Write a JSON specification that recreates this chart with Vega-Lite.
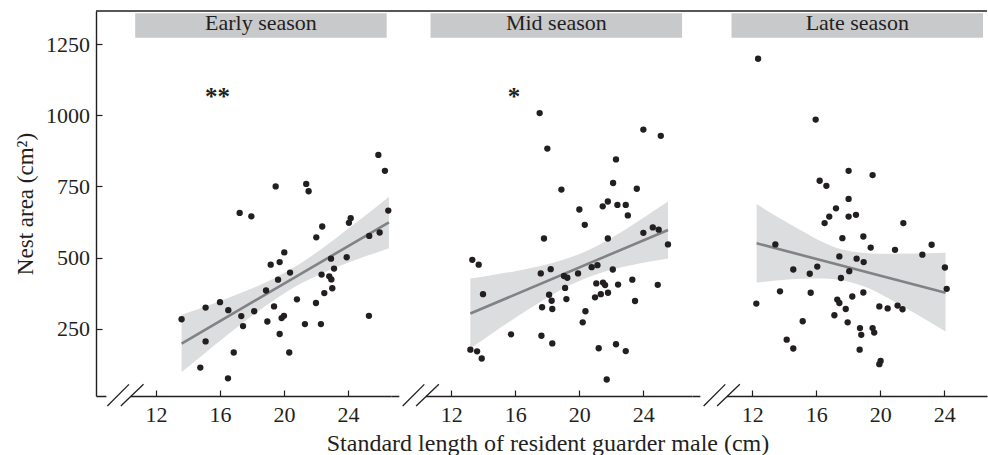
{
  "$schema": "https://vega.github.io/schema/vega-lite/v6.json",
  "background": "white",
  "padding": {"left": 14, "top": 10, "right": 0, "bottom": 0},
  "bounds": "flush",
  "spacing": 0,
  "config": {
    "view": {"stroke": null},
    "font": "Liberation Serif",
    "axis": {
      "grid": false,
      "domainColor": "#231f20", "domainWidth": 1.4,
      "tickColor": "#231f20", "tickWidth": 1.2, "tickSize": -6,
      "labelColor": "#231f20", "labelFont": "Liberation Serif", "labelFontSize": 22,
      "titleColor": "#231f20", "titleFont": "Liberation Serif", "titleFontSize": 24, "titleFontWeight": "normal"
    },
    "axisX": {"labelPadding": 14, "titlePadding": 6},
    "axisY": {"labelPadding": 12.5, "titlePadding": 8.5}
  },
  "datasets": {
    "pts": [
      {"s":"Early","x":13.6,"y":283},{"s":"Early","x":14.77,"y":113},{"s":"Early","x":15.1,"y":324},{"s":"Early","x":15.1,"y":205},{"s":"Early","x":16.0,"y":343},{"s":"Early","x":16.5,"y":75},{"s":"Early","x":16.52,"y":315},{"s":"Early","x":16.86,"y":166},{"s":"Early","x":17.23,"y":657},{"s":"Early","x":17.33,"y":294},{"s":"Early","x":17.44,"y":259},{"s":"Early","x":17.96,"y":645},{"s":"Early","x":18.14,"y":311},{"s":"Early","x":18.88,"y":384},{"s":"Early","x":18.96,"y":275},{"s":"Early","x":19.17,"y":475},{"s":"Early","x":19.38,"y":328},{"s":"Early","x":19.48,"y":750},{"s":"Early","x":19.63,"y":422},{"s":"Early","x":19.73,"y":484},{"s":"Early","x":19.73,"y":231},{"s":"Early","x":19.85,"y":287},{"s":"Early","x":20.0,"y":295},{"s":"Early","x":20.02,"y":518},{"s":"Early","x":20.33,"y":166},{"s":"Early","x":20.38,"y":447},{"s":"Early","x":20.81,"y":353},{"s":"Early","x":21.31,"y":266},{"s":"Early","x":21.39,"y":759},{"s":"Early","x":21.54,"y":733},{"s":"Early","x":22.0,"y":340},{"s":"Early","x":22.02,"y":571},{"s":"Early","x":22.31,"y":266},{"s":"Early","x":22.35,"y":440},{"s":"Early","x":22.39,"y":609},{"s":"Early","x":22.52,"y":375},{"s":"Early","x":22.83,"y":434},{"s":"Early","x":22.94,"y":496},{"s":"Early","x":22.96,"y":423},{"s":"Early","x":23.02,"y":392},{"s":"Early","x":23.13,"y":461},{"s":"Early","x":23.92,"y":501},{"s":"Early","x":24.06,"y":622},{"s":"Early","x":24.17,"y":638},{"s":"Early","x":25.31,"y":295},{"s":"Early","x":25.33,"y":576},{"s":"Early","x":25.9,"y":861},{"s":"Early","x":25.98,"y":588},{"s":"Early","x":26.31,"y":805},{"s":"Early","x":26.52,"y":665},
      {"s":"Mid","x":17.52,"y":1008},{"s":"Mid","x":18.0,"y":883},{"s":"Mid","x":24.0,"y":950},{"s":"Mid","x":25.09,"y":928},{"s":"Mid","x":22.29,"y":845},{"s":"Mid","x":22.11,"y":762},{"s":"Mid","x":23.59,"y":742},{"s":"Mid","x":18.88,"y":739},{"s":"Mid","x":21.78,"y":697},{"s":"Mid","x":21.46,"y":680},{"s":"Mid","x":22.38,"y":685},{"s":"Mid","x":22.9,"y":685},{"s":"Mid","x":23.03,"y":648},{"s":"Mid","x":20.0,"y":669},{"s":"Mid","x":20.34,"y":615},{"s":"Mid","x":24.0,"y":587},{"s":"Mid","x":24.59,"y":606},{"s":"Mid","x":24.96,"y":598},{"s":"Mid","x":25.54,"y":546},{"s":"Mid","x":21.78,"y":567},{"s":"Mid","x":17.79,"y":567},{"s":"Mid","x":13.31,"y":492},{"s":"Mid","x":13.71,"y":475},{"s":"Mid","x":13.98,"y":371},{"s":"Mid","x":17.59,"y":444},{"s":"Mid","x":18.21,"y":459},{"s":"Mid","x":19.04,"y":435},{"s":"Mid","x":19.25,"y":429},{"s":"Mid","x":19.92,"y":444},{"s":"Mid","x":20.77,"y":466},{"s":"Mid","x":21.13,"y":473},{"s":"Mid","x":22.09,"y":458},{"s":"Mid","x":18.11,"y":369},{"s":"Mid","x":18.27,"y":348},{"s":"Mid","x":17.67,"y":325},{"s":"Mid","x":18.31,"y":319},{"s":"Mid","x":19.11,"y":393},{"s":"Mid","x":19.19,"y":354},{"s":"Mid","x":21.06,"y":409},{"s":"Mid","x":21.48,"y":412},{"s":"Mid","x":21.61,"y":403},{"s":"Mid","x":22.42,"y":405},{"s":"Mid","x":23.31,"y":422},{"s":"Mid","x":24.9,"y":404},{"s":"Mid","x":20.98,"y":360},{"s":"Mid","x":21.34,"y":371},{"s":"Mid","x":21.79,"y":376},{"s":"Mid","x":23.48,"y":347},{"s":"Mid","x":20.38,"y":311},{"s":"Mid","x":20.21,"y":272},{"s":"Mid","x":15.73,"y":230},{"s":"Mid","x":17.63,"y":225},{"s":"Mid","x":18.31,"y":198},{"s":"Mid","x":21.21,"y":181},{"s":"Mid","x":22.29,"y":195},{"s":"Mid","x":22.9,"y":171},{"s":"Mid","x":13.19,"y":176},{"s":"Mid","x":13.61,"y":170},{"s":"Mid","x":13.9,"y":145},{"s":"Mid","x":21.71,"y":71},
      {"s":"Late","x":12.36,"y":1199},{"s":"Late","x":15.96,"y":985},{"s":"Late","x":18.02,"y":805},{"s":"Late","x":19.52,"y":790},{"s":"Late","x":16.21,"y":770},{"s":"Late","x":16.63,"y":752},{"s":"Late","x":18.02,"y":706},{"s":"Late","x":17.23,"y":673},{"s":"Late","x":16.81,"y":644},{"s":"Late","x":18.02,"y":644},{"s":"Late","x":18.48,"y":650},{"s":"Late","x":16.52,"y":621},{"s":"Late","x":21.44,"y":621},{"s":"Late","x":17.63,"y":568},{"s":"Late","x":18.94,"y":574},{"s":"Late","x":19.4,"y":535},{"s":"Late","x":20.92,"y":527},{"s":"Late","x":22.63,"y":510},{"s":"Late","x":23.21,"y":545},{"s":"Late","x":13.44,"y":546},{"s":"Late","x":17.44,"y":504},{"s":"Late","x":18.52,"y":496},{"s":"Late","x":18.96,"y":484},{"s":"Late","x":24.04,"y":465},{"s":"Late","x":14.56,"y":458},{"s":"Late","x":16.06,"y":468},{"s":"Late","x":15.59,"y":443},{"s":"Late","x":18.06,"y":452},{"s":"Late","x":17.54,"y":428},{"s":"Late","x":24.15,"y":390},{"s":"Late","x":13.73,"y":381},{"s":"Late","x":15.65,"y":376},{"s":"Late","x":18.94,"y":377},{"s":"Late","x":12.25,"y":338},{"s":"Late","x":17.31,"y":352},{"s":"Late","x":17.44,"y":340},{"s":"Late","x":18.25,"y":363},{"s":"Late","x":17.84,"y":319},{"s":"Late","x":19.94,"y":328},{"s":"Late","x":20.46,"y":321},{"s":"Late","x":21.08,"y":331},{"s":"Late","x":21.39,"y":318},{"s":"Late","x":17.13,"y":297},{"s":"Late","x":15.15,"y":276},{"s":"Late","x":17.96,"y":272},{"s":"Late","x":18.73,"y":252},{"s":"Late","x":18.81,"y":228},{"s":"Late","x":19.52,"y":252},{"s":"Late","x":19.62,"y":236},{"s":"Late","x":14.15,"y":211},{"s":"Late","x":14.56,"y":180},{"s":"Late","x":18.71,"y":176},{"s":"Late","x":20.02,"y":136},{"s":"Late","x":19.94,"y":125}
    ],
    "band": [
      {"s":"Early","x":13.6,"lo":97,"hi":299},{"s":"Early","x":15,"lo":161,"hi":326},{"s":"Early","x":16.5,"lo":229,"hi":358},{"s":"Early","x":18,"lo":295,"hi":391},{"s":"Early","x":19.5,"lo":355,"hi":430},{"s":"Early","x":20.5,"lo":391,"hi":461},{"s":"Early","x":21.5,"lo":421,"hi":497},{"s":"Early","x":23,"lo":460,"hi":557},{"s":"Early","x":24.5,"lo":492,"hi":622},{"s":"Early","x":26.56,"lo":533,"hi":714},
      {"s":"Mid","x":13.19,"lo":180,"hi":426},{"s":"Mid","x":14.5,"lo":231,"hi":438},{"s":"Mid","x":16,"lo":288,"hi":452},{"s":"Mid","x":17.5,"lo":342,"hi":469},{"s":"Mid","x":19,"lo":391,"hi":492},{"s":"Mid","x":20.2,"lo":423,"hi":517},{"s":"Mid","x":21.5,"lo":449,"hi":553},{"s":"Mid","x":23,"lo":470,"hi":603},{"s":"Mid","x":24.5,"lo":487,"hi":658},{"s":"Mid","x":25.54,"lo":497,"hi":697},
      {"s":"Late","x":12.27,"lo":412,"hi":688},{"s":"Late","x":13.5,"lo":419,"hi":645},{"s":"Late","x":15,"lo":425,"hi":597},{"s":"Late","x":16.5,"lo":426,"hi":552},{"s":"Late","x":17.5,"lo":421,"hi":530},{"s":"Late","x":18.15,"lo":413,"hi":522},{"s":"Late","x":19,"lo":398,"hi":516},{"s":"Late","x":20.5,"lo":357,"hi":513},{"s":"Late","x":22,"lo":309,"hi":514},{"s":"Late","x":24.08,"lo":240,"hi":517}
    ],
    "fit": [
      {"s":"Early","x":13.6,"y":197},{"s":"Early","x":26.56,"y":624},
      {"s":"Mid","x":13.19,"y":303},{"s":"Mid","x":25.54,"y":597},
      {"s":"Late","x":12.27,"y":550},{"s":"Late","x":24.08,"y":376}
    ]
  },
  "hconcat": [
    {
      "width": 295, "height": 385,
      "layer": [
        {"data": {"values": [{}]}, "mark": {"type": "rect", "color": "#c8c9cb"},
         "encoding": {"x": {"datum": 10.7, "type": "quantitative"}, "x2": {"datum": 26.42}, "y": {"datum": 1273, "type": "quantitative"}, "y2": {"datum": 1359}}},
        {"data": {"values": [{}]}, "mark": {"type": "text", "font": "Liberation Serif", "fontSize": 22, "color": "#231f20", "align": "center", "baseline": "alphabetic"},
         "encoding": {"x": {"datum": 18.56, "type": "quantitative"}, "y": {"datum": 1299, "type": "quantitative"}, "text": {"value": "Early season"}}},
        {"data": {"name": "band"}, "transform": [{"filter": "datum.s == 'Early'"}], "mark": {"type": "area", "color": "#dcddde", "interpolate": "monotone"},
         "encoding": {"x": {"field": "x", "type": "quantitative"}, "y": {"field": "lo", "type": "quantitative"}, "y2": {"field": "hi"}}},
        {"data": {"name": "fit"}, "transform": [{"filter": "datum.s == 'Early'"}], "mark": {"type": "line", "color": "#808285", "strokeWidth": 2.6},
         "encoding": {"x": {"field": "x", "type": "quantitative"}, "y": {"field": "y", "type": "quantitative"}}},
        {"data": {"values": [{}]}, "mark": {"type": "rule", "color": "#231f20", "strokeWidth": 1.4},
         "encoding": {"y": {"datum": 1367, "type": "quantitative"}}},
        {"data": {"values": [{}]}, "mark": {"type": "rule", "color": "white", "strokeWidth": 4},
         "encoding": {"x": {"datum": 8.9, "type": "quantitative"}, "x2": {"datum": 10.42}, "y": {"datum": 13, "type": "quantitative"}}},
        {"data": {"values": [{}]}, "mark": {"type": "rule", "color": "#231f20", "strokeWidth": 1.3, "clip": false},
         "encoding": {"x": {"datum": 8.96, "type": "quantitative"}, "x2": {"datum": 10.31}, "y": {"datum": -22, "type": "quantitative"}, "y2": {"datum": 54}}},
        {"data": {"values": [{}]}, "mark": {"type": "rule", "color": "#231f20", "strokeWidth": 1.3, "clip": false},
         "encoding": {"x": {"datum": 9.8, "type": "quantitative"}, "x2": {"datum": 11.22}, "y": {"datum": -22, "type": "quantitative"}, "y2": {"datum": 54}}},
        {"data": {"values": [{}]}, "mark": {"type": "text", "font": "Liberation Serif", "fontSize": 25, "fontWeight": "bold", "color": "#231f20", "align": "center", "baseline": "alphabetic"},
         "encoding": {"x": {"datum": 15.84, "type": "quantitative"}, "y": {"datum": 1036, "type": "quantitative"}, "text": {"value": "**"}}},
        {"data": {"name": "pts"}, "transform": [{"filter": "datum.s == 'Early'"}], "mark": {"type": "circle", "size": 40, "color": "#231f20", "opacity": 1},
         "encoding": {
           "x": {"field": "x", "type": "quantitative", "scale": {"domain": [8.25, 26.69], "zero": false, "nice": false}, "axis": {"values": [12, 16, 20, 24], "title": null}},
           "y": {"field": "y", "type": "quantitative", "scale": {"domain": [13, 1367], "zero": false, "nice": false}, "axis": {"values": [250, 500, 750, 1000, 1250], "format": "d", "title": "Nest area (cm²)", "titleFontSize": 23}}
         }}
      ]
    },
    {
      "width": 301, "height": 385,
      "layer": [
        {"data": {"values": [{}]}, "mark": {"type": "rect", "color": "#c8c9cb"},
         "encoding": {"x": {"datum": 10.7, "type": "quantitative"}, "x2": {"datum": 26.42}, "y": {"datum": 1273, "type": "quantitative", "axis": null}, "y2": {"datum": 1359}}},
        {"data": {"values": [{}]}, "mark": {"type": "text", "font": "Liberation Serif", "fontSize": 22, "color": "#231f20", "align": "center", "baseline": "alphabetic"},
         "encoding": {"x": {"datum": 18.56, "type": "quantitative"}, "y": {"datum": 1299, "type": "quantitative", "axis": null}, "text": {"value": "Mid season"}}},
        {"data": {"name": "band"}, "transform": [{"filter": "datum.s == 'Mid'"}], "mark": {"type": "area", "color": "#dcddde", "interpolate": "monotone"},
         "encoding": {"x": {"field": "x", "type": "quantitative"}, "y": {"field": "lo", "type": "quantitative", "axis": null}, "y2": {"field": "hi"}}},
        {"data": {"name": "fit"}, "transform": [{"filter": "datum.s == 'Mid'"}], "mark": {"type": "line", "color": "#808285", "strokeWidth": 2.6},
         "encoding": {"x": {"field": "x", "type": "quantitative"}, "y": {"field": "y", "type": "quantitative", "axis": null}}},
        {"data": {"values": [{}]}, "mark": {"type": "rule", "color": "#231f20", "strokeWidth": 1.4},
         "encoding": {"y": {"datum": 1367, "type": "quantitative", "axis": null}}},
        {"data": {"values": [{}]}, "mark": {"type": "rule", "color": "white", "strokeWidth": 4},
         "encoding": {"x": {"datum": 8.75, "type": "quantitative"}, "x2": {"datum": 10.42}, "y": {"datum": 13, "type": "quantitative", "axis": null}}},
        {"data": {"values": [{}]}, "mark": {"type": "rule", "color": "#231f20", "strokeWidth": 1.3, "clip": false},
         "encoding": {"x": {"datum": 8.96, "type": "quantitative"}, "x2": {"datum": 10.31}, "y": {"datum": -22, "type": "quantitative", "axis": null}, "y2": {"datum": 54}}},
        {"data": {"values": [{}]}, "mark": {"type": "rule", "color": "#231f20", "strokeWidth": 1.3, "clip": false},
         "encoding": {"x": {"datum": 9.8, "type": "quantitative"}, "x2": {"datum": 11.22}, "y": {"datum": -22, "type": "quantitative", "axis": null}, "y2": {"datum": 54}}},
        {"data": {"values": [{}]}, "mark": {"type": "text", "font": "Liberation Serif", "fontSize": 25, "fontWeight": "bold", "color": "#231f20", "align": "center", "baseline": "alphabetic"},
         "encoding": {"x": {"datum": 15.92, "type": "quantitative"}, "y": {"datum": 1036, "type": "quantitative", "axis": null}, "text": {"value": "*"}}},
        {"data": {"name": "pts"}, "transform": [{"filter": "datum.s == 'Mid'"}], "mark": {"type": "circle", "size": 40, "color": "#231f20", "opacity": 1},
         "encoding": {
           "x": {"field": "x", "type": "quantitative", "scale": {"domain": [8.23, 27.04], "zero": false, "nice": false}, "axis": {"values": [12, 16, 20, 24], "title": "Standard length of resident guarder male (cm)", "titleX": 156.5}},
           "y": {"field": "y", "type": "quantitative", "scale": {"domain": [13, 1367], "zero": false, "nice": false}, "axis": null}
         }}
      ]
    },
    {
      "width": 295, "height": 385,
      "layer": [
        {"data": {"values": [{}]}, "mark": {"type": "rect", "color": "#c8c9cb"},
         "encoding": {"x": {"datum": 10.7, "type": "quantitative"}, "x2": {"datum": 26.42}, "y": {"datum": 1273, "type": "quantitative", "axis": null}, "y2": {"datum": 1359}}},
        {"data": {"values": [{}]}, "mark": {"type": "text", "font": "Liberation Serif", "fontSize": 22, "color": "#231f20", "align": "center", "baseline": "alphabetic"},
         "encoding": {"x": {"datum": 18.56, "type": "quantitative"}, "y": {"datum": 1299, "type": "quantitative", "axis": null}, "text": {"value": "Late season"}}},
        {"data": {"name": "band"}, "transform": [{"filter": "datum.s == 'Late'"}], "mark": {"type": "area", "color": "#dcddde", "interpolate": "monotone"},
         "encoding": {"x": {"field": "x", "type": "quantitative"}, "y": {"field": "lo", "type": "quantitative", "axis": null}, "y2": {"field": "hi"}}},
        {"data": {"name": "fit"}, "transform": [{"filter": "datum.s == 'Late'"}], "mark": {"type": "line", "color": "#808285", "strokeWidth": 2.6},
         "encoding": {"x": {"field": "x", "type": "quantitative"}, "y": {"field": "y", "type": "quantitative", "axis": null}}},
        {"data": {"values": [{}]}, "mark": {"type": "rule", "color": "#231f20", "strokeWidth": 1.4},
         "encoding": {"y": {"datum": 1367, "type": "quantitative", "axis": null}}},
        {"data": {"values": [{}]}, "mark": {"type": "rule", "color": "white", "strokeWidth": 4},
         "encoding": {"x": {"datum": 8.75, "type": "quantitative"}, "x2": {"datum": 10.42}, "y": {"datum": 13, "type": "quantitative", "axis": null}}},
        {"data": {"values": [{}]}, "mark": {"type": "rule", "color": "#231f20", "strokeWidth": 1.3, "clip": false},
         "encoding": {"x": {"datum": 8.96, "type": "quantitative"}, "x2": {"datum": 10.31}, "y": {"datum": -22, "type": "quantitative", "axis": null}, "y2": {"datum": 54}}},
        {"data": {"values": [{}]}, "mark": {"type": "rule", "color": "#231f20", "strokeWidth": 1.3, "clip": false},
         "encoding": {"x": {"datum": 9.8, "type": "quantitative"}, "x2": {"datum": 11.22}, "y": {"datum": -22, "type": "quantitative", "axis": null}, "y2": {"datum": 54}}},
        {"data": {"name": "pts"}, "transform": [{"filter": "datum.s == 'Late'"}], "mark": {"type": "circle", "size": 40, "color": "#231f20", "opacity": 1},
         "encoding": {
           "x": {"field": "x", "type": "quantitative", "scale": {"domain": [8.23, 26.67], "zero": false, "nice": false}, "axis": {"values": [12, 16, 20, 24], "title": null}},
           "y": {"field": "y", "type": "quantitative", "scale": {"domain": [13, 1367], "zero": false, "nice": false}, "axis": null}
         }}
      ]
    }
  ]
}
